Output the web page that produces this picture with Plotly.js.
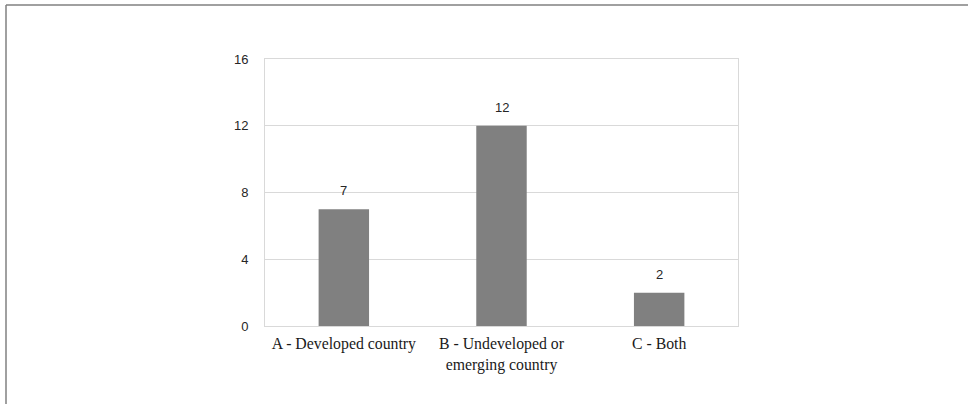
<!DOCTYPE html>
<html>
<head>
<meta charset="utf-8">
<script src="https://cdn.plot.ly/plotly-3.0.1.min.js"></script>
<style>
html, body { margin: 0; padding: 0; background: #fff; }
#chart { width: 968px; height: 404px; }
</style>
</head>
<body>
<div id="chart"></div>
<script>
var categories = ["A - Developed country", "B - Undeveloped or<br>emerging country", "C - Both"];
var counts = [7, 12, 2];
var yTicks = [0, 4, 8, 12, 16];

var trace = {
  type: "bar",
  x: categories,
  y: counts,
  marker: { color: "#808080", line: { width: 0 } },
  hoverinfo: "x+y"
};

var labelAnnotations = categories.map(function (c, i) {
  return {
    x: c, y: counts[i], xref: "x", yref: "y",
    text: String(counts[i]),
    showarrow: false,
    yanchor: "bottom",
    yshift: 9,
    font: { family: "Liberation Sans, Arial, sans-serif", size: 13, color: "#262626" }
  };
});

var layout = {
  width: 968,
  height: 404,
  margin: { l: 265, r: 230, t: 59, b: 78, pad: 0 },
  paper_bgcolor: "#ffffff",
  plot_bgcolor: "#ffffff",
  showlegend: false,
  bargap: 0.68,
  xaxis: {
    type: "category",
    showgrid: false,
    showline: true,
    linecolor: "#d9d9d9",
    linewidth: 1,
    mirror: true,
    ticks: "",
    ticklabelstandoff: 3,
    tickfont: { family: "Liberation Serif, Times New Roman, serif", size: 15.8, color: "#1a1a1a" },
    fixedrange: true
  },
  yaxis: {
    range: [0, 16],
    tickvals: yTicks,
    ticktext: yTicks.map(String),
    showgrid: true,
    gridcolor: "#d9d9d9",
    gridwidth: 1,
    showline: true,
    linecolor: "#d9d9d9",
    linewidth: 1,
    mirror: true,
    zeroline: false,
    ticks: "",
    ticklabelstandoff: 13,
    tickfont: { family: "Liberation Sans, Arial, sans-serif", size: 13, color: "#262626" },
    fixedrange: true
  },
  annotations: labelAnnotations,
  shapes: [
    { type: "line", xref: "paper", yref: "paper",
      x0: (6 - 265) / 473, x1: (968 - 265) / 473 + 0.01,
      y0: (326 - 5) / 267, y1: (326 - 5) / 267,
      line: { color: "#808080", width: 1.5 } },
    { type: "line", xref: "paper", yref: "paper",
      x0: (6 - 265) / 473, x1: (6 - 265) / 473,
      y0: (326 - 5) / 267, y1: (326 - 410) / 267,
      line: { color: "#808080", width: 1.5 } }
  ]
};

Plotly.newPlot("chart", [trace], layout, { displayModeBar: false, staticPlot: true });
</script>
</body>
</html>
